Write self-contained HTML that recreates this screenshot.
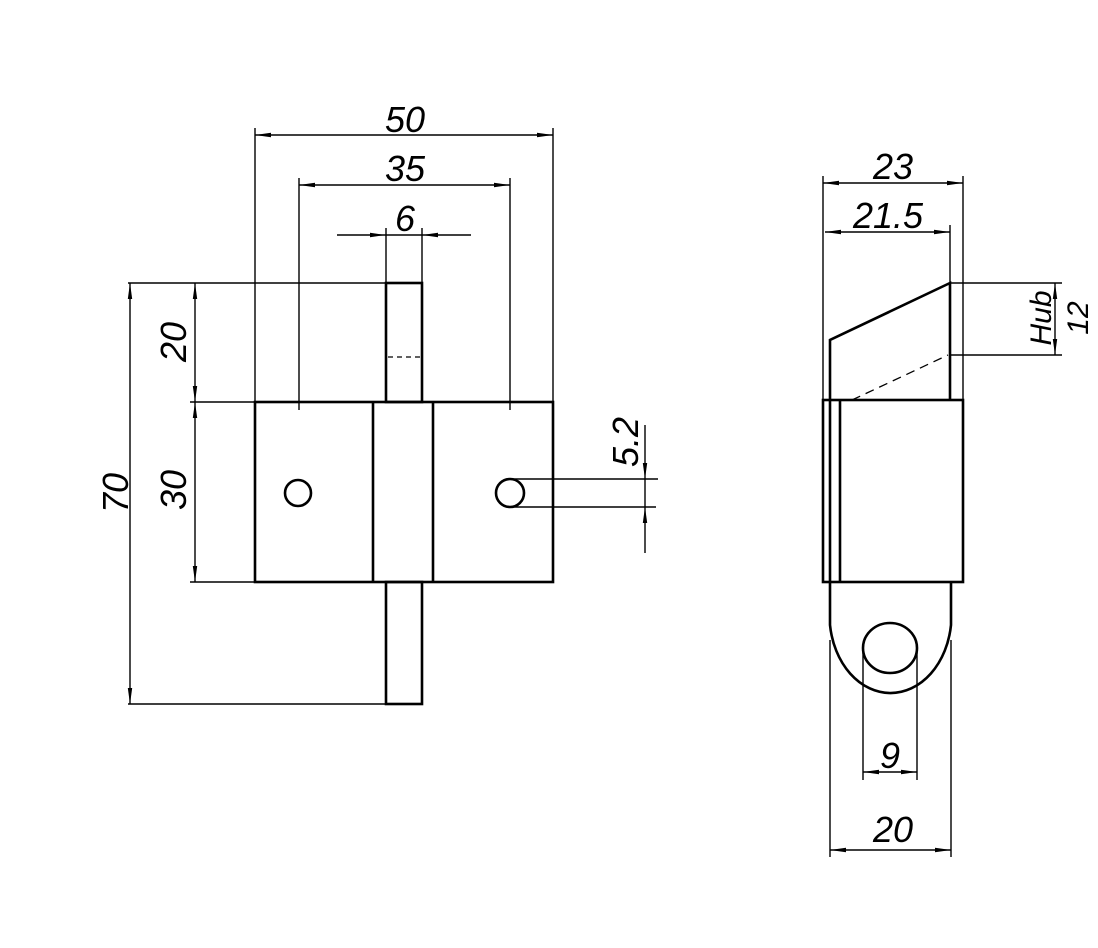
<!DOCTYPE html>
<html><head><meta charset="utf-8"><style>html,body{margin:0;padding:0;background:#fff}svg{display:block}</style></head>
<body>
<svg width="1098" height="948" viewBox="0 0 1098 948" xmlns="http://www.w3.org/2000/svg">
<defs>
<marker id="a" viewBox="0 0 16 6" refX="16" refY="3" markerWidth="16" markerHeight="6" markerUnits="userSpaceOnUse" orient="auto-start-reverse"><path d="M0,0.8 L16,3 L0,5.2 Z" fill="#000"/></marker>
</defs>
<g fill="none" stroke="#000" stroke-width="1.4">
<line x1="255" y1="128" x2="255" y2="402"/>
<line x1="553" y1="128" x2="553" y2="402"/>
<line x1="299" y1="178" x2="299" y2="410"/>
<line x1="510" y1="178" x2="510" y2="410"/>
<line x1="386" y1="228" x2="386" y2="283"/>
<line x1="422" y1="228" x2="422" y2="283"/>
<line x1="128" y1="283" x2="386" y2="283"/>
<line x1="190" y1="402" x2="255" y2="402"/>
<line x1="190" y1="582" x2="255" y2="582"/>
<line x1="128" y1="704" x2="386" y2="704"/>
<line x1="255" y1="135" x2="553" y2="135" marker-start="url(#a)" marker-end="url(#a)"/>
<line x1="299" y1="185" x2="510" y2="185" marker-start="url(#a)" marker-end="url(#a)"/>
<line x1="337" y1="235" x2="386" y2="235" marker-end="url(#a)"/>
<line x1="471" y1="235" x2="422" y2="235" marker-end="url(#a)"/>
<line x1="386" y1="235" x2="422" y2="235"/>
<line x1="130" y1="283" x2="130" y2="704" marker-start="url(#a)" marker-end="url(#a)"/>
<line x1="195" y1="283" x2="195" y2="402" marker-start="url(#a)" marker-end="url(#a)"/>
<line x1="195" y1="402" x2="195" y2="582" marker-start="url(#a)" marker-end="url(#a)"/>
<line x1="510" y1="479" x2="658" y2="479"/>
<line x1="510" y1="507" x2="656" y2="507"/>
<line x1="645" y1="425" x2="645" y2="479" marker-end="url(#a)"/>
<line x1="645" y1="553" x2="645" y2="507" marker-end="url(#a)"/>
<line x1="645" y1="479" x2="645" y2="507"/>
</g>
<g fill="none" stroke="#000" stroke-width="2.6">
<rect x="386" y="283" width="36" height="119"/>
<rect x="255" y="402" width="298" height="180"/>
<line x1="373" y1="402" x2="373" y2="582"/>
<line x1="433" y1="402" x2="433" y2="582"/>
<rect x="386" y="582" width="36" height="122"/>
<circle cx="298" cy="493" r="13"/>
<circle cx="510" cy="493" r="14"/>
</g>
<line x1="388" y1="357" x2="420" y2="357" stroke="#000" stroke-width="1.3" stroke-dasharray="5,4"/>
<g fill="none" stroke="#000" stroke-width="1.4">
<line x1="823" y1="176" x2="823" y2="400"/>
<line x1="963" y1="176" x2="963" y2="400"/>
<line x1="950" y1="225" x2="950" y2="283"/>
<line x1="823" y1="183" x2="963" y2="183" marker-start="url(#a)" marker-end="url(#a)"/>
<line x1="825" y1="232" x2="950" y2="232" marker-start="url(#a)" marker-end="url(#a)"/>
<line x1="950" y1="283" x2="1062" y2="283"/>
<line x1="950" y1="355" x2="1062" y2="355"/>
<line x1="1055" y1="283" x2="1055" y2="355" marker-start="url(#a)" marker-end="url(#a)"/>
<line x1="863" y1="650" x2="863" y2="780"/>
<line x1="917" y1="650" x2="917" y2="780"/>
<line x1="863" y1="772" x2="917" y2="772" marker-start="url(#a)" marker-end="url(#a)"/>
<line x1="830" y1="640" x2="830" y2="857"/>
<line x1="951" y1="640" x2="951" y2="857"/>
<line x1="830" y1="850" x2="951" y2="850" marker-start="url(#a)" marker-end="url(#a)"/>
</g>
<line x1="852" y1="400" x2="948" y2="355" stroke="#000" stroke-width="1.3" stroke-dasharray="9,6"/>
<g fill="none" stroke="#000" stroke-width="2.6">
<polyline points="830,400 830,340 950,283 950,400"/>
<rect x="823" y="400" width="140" height="182"/>
<line x1="830" y1="400" x2="830" y2="582"/>
<line x1="840" y1="400" x2="840" y2="582"/>
<path d="M830,582 L830,625 A61,78 0 0 0 951,625 L951,582"/>
<ellipse cx="890" cy="648" rx="27" ry="25"/>
</g>
<g font-family="Liberation Sans, sans-serif" font-style="italic" font-size="36" fill="#000" text-anchor="middle">
<text x="405" y="132">50</text>
<text x="405" y="181">35</text>
<text x="405" y="231">6</text>
<text transform="translate(128,493) rotate(-90)">70</text>
<text transform="translate(186,342) rotate(-90)">20</text>
<text transform="translate(186,490) rotate(-90)">30</text>
<text transform="translate(638,442) rotate(-90)">5.2</text>
<text x="893" y="179">23</text>
<text x="888" y="228">21.5</text>
<text transform="translate(1051,318) rotate(-90)" font-size="30">Hub</text>
<text transform="translate(1088,318) rotate(-90)" font-size="30">12</text>
<text x="890" y="768">9</text>
<text x="893" y="842">20</text>
</g>
</svg>
</body></html>
